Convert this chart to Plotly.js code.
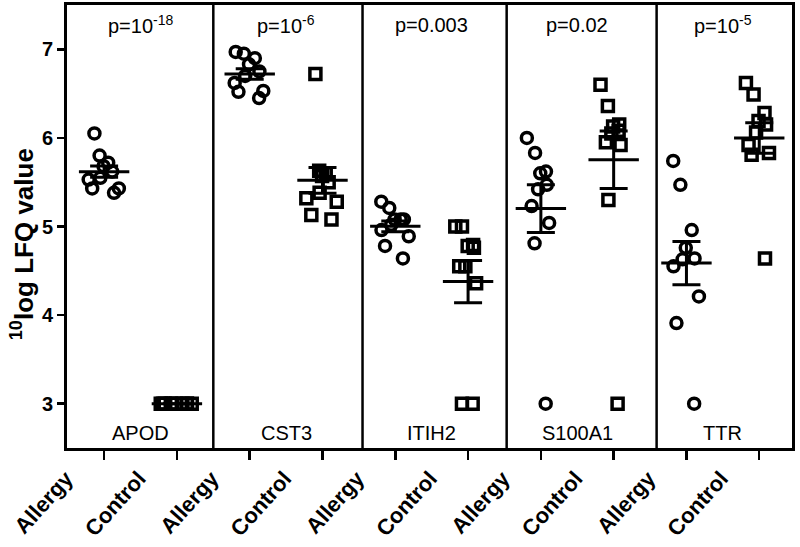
<!DOCTYPE html>
<html><head><meta charset="utf-8">
<script src="https://cdn.plot.ly/plotly-3.0.1.min.js"></script>
<style>html,body{margin:0;padding:0;background:#fff}#chart{width:800px;height:547px}</style>
</head><body><div id="chart"></div>
<script>
// ---- data ----
const genes = ['APOD', 'CST3', 'ITIH2', 'S100A1', 'TTR'];
const groups = ['Allergy', 'Control'];
const pLabels = ['p=10<sup>-18</sup>', 'p=10<sup>-6</sup>', 'p=0.003', 'p=0.02', 'p=10<sup>-5</sup>'];

const APOD_Allergy   = [6.05, 5.80, 5.72, 5.68, 5.62, 5.55, 5.53, 5.43, 5.43, 5.38];
const APOD_Control   = [3.0, 3.0, 3.0, 3.0, 3.0, 3.0, 3.0, 3.0, 3.0, 3.0];
const CST3_Allergy   = [6.97, 6.90, 6.95, 6.83, 6.75, 6.70, 6.62, 6.53, 6.52, 6.45];
const CST3_Control   = [6.72, 5.63, 5.60, 5.57, 5.50, 5.38, 5.32, 5.28, 5.13, 5.08];
const ITIH2_Allergy  = [5.28, 5.21, 5.08, 5.08, 5.08, 5.02, 4.96, 4.89, 4.78, 4.64];
const ITIH2_Control  = [5.00, 5.00, 4.79, 4.78, 4.76, 4.55, 4.55, 4.36, 3.0, 3.0];
const S100A1_Allergy = [6.00, 5.83, 5.60, 5.62, 5.42, 5.47, 5.23, 5.04, 4.81, 3.0];
const S100A1_Control = [6.60, 6.36, 6.15, 6.13, 6.08, 6.05, 5.95, 5.92, 5.30, 3.0];
const TTR_Allergy    = [5.74, 5.47, 4.96, 4.76, 4.63, 4.55, 4.64, 4.21, 3.91, 3.0];
const TTR_Control    = [6.62, 6.49, 6.28, 6.19, 6.15, 6.06, 5.92, 5.83, 5.81, 4.64];

const series = [
  [APOD_Allergy, APOD_Control],
  [CST3_Allergy, CST3_Control],
  [ITIH2_Allergy, ITIH2_Control],
  [S100A1_Allergy, S100A1_Control],
  [TTR_Allergy, TTR_Control]
];

// ---- build traces ----
const FONT = 'Liberation Sans, Arial, Helvetica, sans-serif';
const traces = [];
const pos = [], means = [], sems = [], ticktext = [];
series.forEach((pair, g) => {
  pair.forEach((vals, k) => {
    const idx = g * 2 + k;
    pos.push(idx);
    ticktext.push(groups[k]);
    const n = vals.length;
    const m = vals.reduce((a, b) => a + b, 0) / n;
    const sd = Math.sqrt(vals.reduce((a, b) => a + (b - m) * (b - m), 0) / (n - 1));
    means.push(m);
    sems.push(sd / Math.sqrt(n));
    traces.push({
      type: 'box', x0: idx, y: vals, boxpoints: 'all', jitter: 0.75, pointpos: 0, width: 0.7,
      line: {width: 0, color: 'rgba(0,0,0,0)'}, fillcolor: 'rgba(0,0,0,0)',
      marker: {symbol: k === 0 ? 'circle-open' : 'square-open', size: 11, color: '#000',
               line: {width: 3.5, color: '#000'}},
      showlegend: false, hoverinfo: 'y'
    });
  });
});
traces.push({
  type: 'scatter', mode: 'markers', x: pos, y: means, showlegend: false,
  marker: {symbol: 'line-ew', size: 36, color: '#000', line: {width: 3, color: '#000'}},
  error_y: {type: 'data', array: sems, visible: true, color: '#000', thickness: 3, width: 14}
});

const dividers = [1.5, 3.55, 5.53, 7.59];
const shapes = dividers.map(x => ({
  type: 'line', xref: 'x', yref: 'paper', x0: x, x1: x, y0: 0, y1: 1,
  line: {color: '#000', width: 2.5}
}));

const annotations = [];
genes.forEach((gname, g) => {
  annotations.push({xref: 'x', yref: 'paper', x: g * 2 + 0.5, y: 0.034, text: gname,
    showarrow: false, xanchor: 'center', yanchor: 'middle',
    font: {family: FONT, size: 20, color: '#000'}});
  annotations.push({xref: 'x', yref: 'paper', x: g * 2 + 0.5, y: 0.955, text: pLabels[g],
    showarrow: false, xanchor: 'center', yanchor: 'middle',
    font: {family: FONT, size: 20, color: '#000'}});
});
annotations.push({xref: 'paper', yref: 'paper', x: -0.062, y: 0.46, text: '<sup>10</sup>log LFQ value',
  textangle: -90, showarrow: false, xanchor: 'center', yanchor: 'middle',
  font: {family: FONT, size: 26, color: '#000', weight: 'bold'}});

const layout = {
  width: 800, height: 547,
  margin: {l: 67, r: 8, t: 5, b: 99},
  paper_bgcolor: '#fff', plot_bgcolor: '#fff',
  showlegend: false,
  xaxis: {
    type: 'linear', range: [-0.51, 9.45], tickmode: 'array', tickvals: pos, ticktext: ticktext,
    tickangle: -48, ticklabelshift: -38, ticklabelstandoff: -3, ticks: 'outside', ticklen: 9, tickwidth: 2.5, tickcolor: '#000',
    showline: true, linewidth: 3, linecolor: '#000', mirror: true,
    showgrid: false, zeroline: false,
    tickfont: {family: FONT, size: 22, color: '#000', weight: 'bold'}
  },
  yaxis: {
    range: [2.5, 7.5], tickmode: 'array', tickvals: [3, 4, 5, 6, 7],
    ticks: 'outside', ticklen: 7, tickwidth: 2.5, tickcolor: '#000',
    showline: true, linewidth: 3, linecolor: '#000', mirror: true,
    showgrid: false, zeroline: false,
    tickfont: {family: FONT, size: 20, color: '#000', weight: 'bold'}
  },
  shapes: shapes,
  annotations: annotations
};

Plotly.newPlot('chart', traces, layout, {staticPlot: true, displayModeBar: false});
</script>
</body></html>
